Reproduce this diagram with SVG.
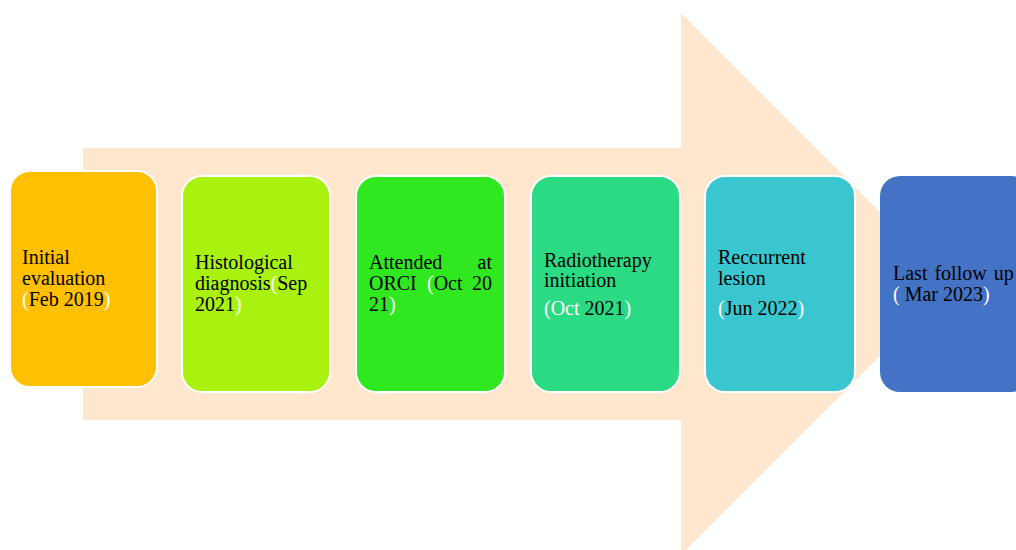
<svg xmlns="http://www.w3.org/2000/svg" width="1016" height="550" viewBox="0 0 1016 550">
<style>
.box{stroke:#ffffff;stroke-width:2}
.t{font-family:"Liberation Serif","Times New Roman",serif;font-size:20px;fill:#000000}
.w{fill:#ffffff}
</style>
<rect x="0" y="0" width="1016" height="550" fill="#ffffff"/>
<g id="arrow">
<polygon points="83,148 681,148 681,13 952,284 681,555 681,420 83,420" fill="#FEE7CD"/>
</g>
<g id="connectors"></g>
<g id="n1">
<rect class="box" x="10" y="171" width="147" height="216" rx="20" fill="#FFC000"/>
<text class="t" x="22" y="264">Initial</text>
<text class="t" x="22" y="285">evaluation</text>
<text class="t" x="22" y="306"><tspan class="w">(</tspan>Feb 2019<tspan class="w">)</tspan></text>
</g>
<g id="n2">
<rect class="box" x="182" y="176" width="148" height="216" rx="20" fill="#A9F20F"/>
<text class="t" x="195" y="269">Histological</text>
<text class="t" x="195" y="290">diagnosis<tspan class="w">(</tspan>Sep</text>
<text class="t" x="195" y="311">2021<tspan class="w">)</tspan></text>
</g>
<g id="n3">
<rect class="box" x="356" y="176" width="149" height="216" rx="20" fill="#30E820"/>
<text class="t" x="369" y="269">Attended</text>
<text class="t" x="492" y="269" text-anchor="end">at</text>
<text class="t" x="369" y="290">ORCI</text>
<text class="t" x="427" y="290"><tspan class="w">(</tspan>Oct</text>
<text class="t" x="492" y="290" text-anchor="end">20</text>
<text class="t" x="369" y="311">21<tspan class="w">)</tspan></text>
</g>
<g id="n4">
<rect class="box" x="531" y="176" width="149" height="216" rx="20" fill="#2BDB84"/>
<text class="t" x="544" y="267">Radiotherapy</text>
<text class="t" x="544" y="287">initiation</text>
<text class="t" x="544" y="315"><tspan class="w">(Oct</tspan> 2021<tspan class="w">)</tspan></text>
</g>
<g id="n5">
<rect class="box" x="705" y="176" width="150" height="216" rx="20" fill="#3AC6CF"/>
<text class="t" x="718" y="264">Reccurrent</text>
<text class="t" x="718" y="285">lesion</text>
<text class="t" x="718" y="315"><tspan class="w">(</tspan>Jun 2022<tspan class="w">)</tspan></text>
</g>
<g id="n6">
<rect x="880" y="176" width="152" height="216" rx="20" fill="#4472C4"/>
<text class="t" x="893" y="280" word-spacing="2">Last follow up</text>
<text class="t" x="893" y="301"><tspan class="w">(</tspan> Mar 2023<tspan class="w">)</tspan></text>
</g>
</svg>
